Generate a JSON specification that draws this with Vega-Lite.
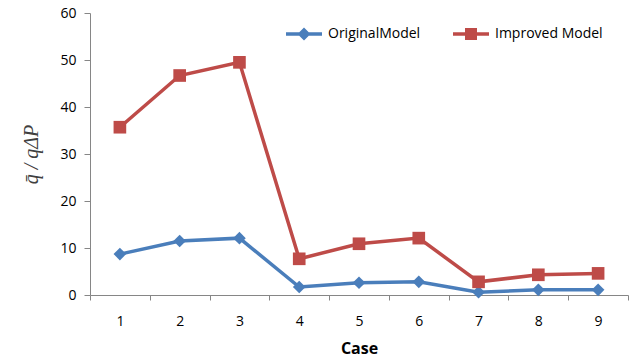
{
  "$schema": "https://vega.github.io/schema/vega-lite/v6.json",
  "width": 538,
  "height": 282,
  "autosize": {"type": "none"},
  "padding": {"left": 90, "top": 13, "right": 7, "bottom": 65},
  "background": "white",
  "config": {
    "view": {"stroke": null},
    "font": "Open Sans",
    "axis": {"domainColor": "#868686", "tickColor": "#868686", "grid": false, "labelColor": "#000000", "labelFontSize": 14, "labelFont": "Open Sans"},
    "legend": {"symbolOpacity": 1, "symbolStrokeWidth": 0, "symbolBaseFillColor": {"expr": "datum.value === 'OriginalModel' ? '#4a7ebb' : '#be4b48'"}}
  },
  "data": {
    "values": [
      {"case": "1", "value": "OriginalModel", "q": 8.7},
      {"case": "2", "value": "OriginalModel", "q": 11.5},
      {"case": "3", "value": "OriginalModel", "q": 12.1},
      {"case": "4", "value": "OriginalModel", "q": 1.7},
      {"case": "5", "value": "OriginalModel", "q": 2.6},
      {"case": "6", "value": "OriginalModel", "q": 2.8},
      {"case": "7", "value": "OriginalModel", "q": 0.6},
      {"case": "8", "value": "OriginalModel", "q": 1.1},
      {"case": "9", "value": "OriginalModel", "q": 1.1},
      {"case": "1", "value": "Improved Model", "q": 35.7},
      {"case": "2", "value": "Improved Model", "q": 46.7},
      {"case": "3", "value": "Improved Model", "q": 49.5},
      {"case": "4", "value": "Improved Model", "q": 7.7},
      {"case": "5", "value": "Improved Model", "q": 10.9},
      {"case": "6", "value": "Improved Model", "q": 12.1},
      {"case": "7", "value": "Improved Model", "q": 2.8},
      {"case": "8", "value": "Improved Model", "q": 4.3},
      {"case": "9", "value": "Improved Model", "q": 4.6}
    ]
  },
  "encoding": {
    "x": {
      "field": "case", "type": "ordinal",
      "scale": {"paddingInner": 0, "paddingOuter": 0},
      "axis": {"title": "Case", "titleFont": "Open Sans", "titleFontSize": 16, "titleFontWeight": "bold", "titleColor": "#000000", "labelAngle": 0, "tickBand": "extent", "tickSize": 5, "labelPadding": 14, "titlePadding": 12}
    },
    "y": {
      "field": "q", "type": "quantitative",
      "scale": {"domain": [0, 60], "nice": false},
      "axis": {"values": [0, 10, 20, 30, 40, 50, 60], "tickSize": 6, "labelPadding": 8, "title": "q̄ / qΔP", "titleFont": "Liberation Serif", "titleFontStyle": "italic", "titleFontWeight": "normal", "titleFontSize": 20, "titleColor": "#404040", "titlePadding": 18}
    }
  },
  "layer": [
    {
      "mark": {"type": "line", "strokeWidth": 3.5},
      "encoding": {"color": {"field": "value", "type": "nominal", "legend": null, "scale": {"domain": ["OriginalModel", "Improved Model"], "range": ["#4a7ebb", "#be4b48"]}}}
    },
    {
      "mark": {"type": "point", "filled": true, "opacity": 1, "size": 160},
      "encoding": {
        "color": {"field": "value", "type": "nominal", "legend": null},
        "shape": {"field": "value", "type": "nominal", "legend": null, "scale": {"domain": ["OriginalModel", "Improved Model"], "range": ["diamond", "square"]}}
      }
    },
    {
      "mark": {"type": "point", "filled": true, "size": 0},
      "encoding": {
        "color": {"field": "value", "type": "nominal", "legend": null},
        "shape": {
          "field": "value", "type": "nominal",
          "scale": {"domain": ["OriginalModel", "Improved Model"], "range": ["M-1.8,-0.17H1.8V0.17H-1.8Z M0,-0.65L0.65,0L0,0.65L-0.65,0Z", "M-1.8,-0.17H1.8V0.17H-1.8Z M-0.6,-0.6H0.6V0.6H-0.6Z"]},
          "legend": {
            "title": null, "orient": "none", "direction": "horizontal",
            "legendX": 204, "legendY": 11,
            "labelFontSize": 14, "labelFont": "Open Sans", "labelColor": "#000000",
            "labelOffset": 14, "columnPadding": 32, "symbolSize": 400
          }
        }
      }
    }
  ],
  "resolve": {"scale": {"shape": "independent"}}
}
